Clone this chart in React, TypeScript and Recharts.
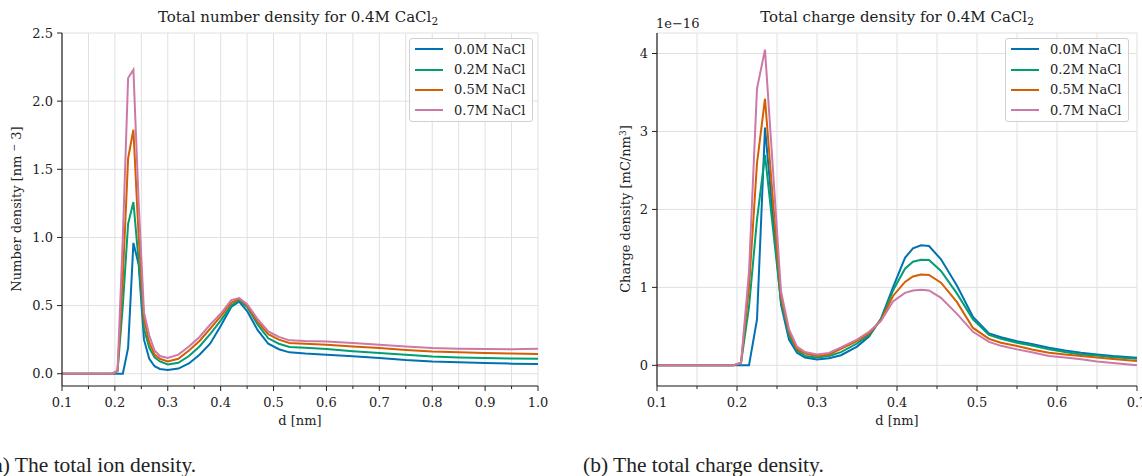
import { LineChart, Line, XAxis, YAxis, CartesianGrid, Legend } from 'recharts';

const seriesNames = ['0.0M NaCl', '0.2M NaCl', '0.5M NaCl', '0.7M NaCl'];
const seriesColors = ['#0072B2', '#009E73', '#D55E00', '#CC79A7'];

// (a) total number density, d in nm
const dNumber = [0.1, 0.15, 0.195, 0.205, 0.215, 0.225, 0.235, 0.245, 0.255, 0.265, 0.275, 0.285, 0.3, 0.32, 0.34, 0.36, 0.38, 0.4, 0.42, 0.435, 0.45, 0.47, 0.49, 0.51, 0.53, 0.56, 0.6, 0.65, 0.7, 0.75, 0.8, 0.85, 0.9, 0.95, 1.0];
const number00 = [0, 0, 0, 0, 0, 0.19, 0.96, 0.8, 0.25, 0.11, 0.055, 0.035, 0.028, 0.038, 0.075, 0.14, 0.22, 0.35, 0.49, 0.53, 0.46, 0.32, 0.22, 0.18, 0.157, 0.148, 0.14, 0.128, 0.115, 0.1, 0.09, 0.085, 0.078, 0.074, 0.071];
const number02 = [0, 0, 0, 0.02, 0.5, 1.1, 1.26, 0.82, 0.33, 0.19, 0.12, 0.09, 0.068, 0.08, 0.13, 0.2, 0.29, 0.39, 0.5, 0.54, 0.49, 0.36, 0.26, 0.22, 0.196, 0.19, 0.181, 0.165, 0.152, 0.14, 0.127, 0.12, 0.115, 0.112, 0.11];
const number05 = [0, 0, 0, 0.02, 0.7, 1.58, 1.79, 1.0, 0.4, 0.23, 0.14, 0.11, 0.09, 0.11, 0.17, 0.24, 0.33, 0.42, 0.52, 0.55, 0.5, 0.38, 0.29, 0.25, 0.225, 0.22, 0.213, 0.2, 0.188, 0.175, 0.164, 0.158, 0.152, 0.148, 0.144];
const number07 = [0, 0, 0, 0.02, 1.0, 2.17, 2.23, 1.25, 0.45, 0.28, 0.17, 0.13, 0.115, 0.14, 0.2, 0.27, 0.36, 0.44, 0.54, 0.555, 0.51, 0.4, 0.31, 0.27, 0.245, 0.24, 0.237, 0.225, 0.213, 0.2, 0.188, 0.184, 0.181, 0.18, 0.183];

// (b) total charge density, units of 1e-16 mC/nm^3
const dCharge = [0.1, 0.15, 0.195, 0.205, 0.215, 0.225, 0.235, 0.245, 0.255, 0.265, 0.275, 0.285, 0.3, 0.315, 0.33, 0.35, 0.365, 0.38, 0.395, 0.41, 0.42, 0.43, 0.44, 0.455, 0.475, 0.495, 0.515, 0.53, 0.55, 0.57, 0.59, 0.61, 0.63, 0.65, 0.67, 0.7];
const charge00 = [0, 0, 0, 0, 0, 0.59, 3.05, 1.9, 0.78, 0.33, 0.16, 0.1, 0.075, 0.09, 0.13, 0.24, 0.37, 0.6, 1.0, 1.38, 1.5, 1.54, 1.53, 1.36, 1.02, 0.62, 0.41, 0.36, 0.31, 0.27, 0.225, 0.19, 0.162, 0.14, 0.12, 0.098];
const charge02 = [0, 0, 0, 0.03, 0.75, 1.87, 2.7, 1.75, 0.82, 0.38, 0.19, 0.12, 0.1, 0.12, 0.17, 0.28, 0.39, 0.59, 0.96, 1.24, 1.33, 1.355, 1.35, 1.21, 0.92, 0.59, 0.39, 0.34, 0.29, 0.25, 0.205, 0.17, 0.14, 0.125, 0.105, 0.085];
const charge05 = [0, 0, 0, 0.03, 1.0, 2.59, 3.42, 2.1, 0.88, 0.43, 0.21, 0.15, 0.12, 0.14, 0.21, 0.31, 0.41, 0.58, 0.89, 1.07, 1.14, 1.164, 1.16, 1.06, 0.81, 0.48, 0.34, 0.29, 0.247, 0.2, 0.162, 0.14, 0.12, 0.1, 0.08, 0.055];
const charge07 = [0, 0, 0, 0.03, 1.2, 3.55, 4.05, 2.5, 0.95, 0.46, 0.24, 0.17, 0.14, 0.16, 0.23, 0.33, 0.43, 0.57, 0.82, 0.93, 0.96, 0.97, 0.96, 0.866, 0.66, 0.43, 0.3, 0.25, 0.205, 0.165, 0.12, 0.1, 0.077, 0.05, 0.03, 0.0];

const numberXMajor = [0.1, 0.2, 0.3, 0.4, 0.5, 0.6, 0.7, 0.8, 0.9, 1.0];
const numberXAll = [0.1, 0.15, 0.2, 0.25, 0.3, 0.35, 0.4, 0.45, 0.5, 0.55, 0.6, 0.65, 0.7, 0.75, 0.8, 0.85, 0.9, 0.95, 1.0];
const numberYTicks = [0, 0.5, 1.0, 1.5, 2.0, 2.5];
const chargeXMajor = [0.1, 0.2, 0.3, 0.4, 0.5, 0.6, 0.7];
const chargeXAll = [0.1, 0.15, 0.2, 0.25, 0.3, 0.35, 0.4, 0.45, 0.5, 0.55, 0.6, 0.65, 0.7];
const chargeYTicks = [0, 1, 2, 3, 4];

const numberRows = dNumber.map((d, i) => ({ d, s0: number00[i], s1: number02[i], s2: number05[i], s3: number07[i] }));
const chargeRows = dCharge.map((d, i) => ({ d, s0: charge00[i], s1: charge02[i], s2: charge05[i], s3: charge07[i] }));

const FONT = "'DejaVu Serif', serif";
const INK = '#222';

function XTick(props: any) {
  const { x, y, payload, majors } = props;
  const v = payload.value;
  const major = majors.some((m: number) => Math.abs(m - v) < 1e-6);
  return (
    <g>
      <line x1={x} x2={x} y1={y} y2={y + (major ? 5 : 3)} stroke={INK} strokeWidth={1} />
      {major && (
        <text x={x} y={y + 12} dy="0.71em" textAnchor="middle" fontFamily={FONT} fontSize={13} fill={INK}>
          {v.toFixed(1)}
        </text>
      )}
    </g>
  );
}

function YTick(props: any) {
  const { x, y, payload, digits } = props;
  return (
    <g>
      <line x1={x - 5} x2={x} y1={y} y2={y} stroke={INK} strokeWidth={1} />
      <text x={x - 9} y={y} dy="0.36em" textAnchor="end" fontFamily={FONT} fontSize={13} fill={INK}>
        {payload.value.toFixed(digits)}
      </text>
    </g>
  );
}

function LegendBox() {
  return (
    <div
      style={{
        width: 124,
        border: '1px solid #d0d0d0',
        borderRadius: 3,
        background: 'rgba(255,255,255,0.85)',
        boxSizing: 'border-box',
        padding: '0 0 0 5px',
        fontFamily: FONT,
        fontSize: 13,
        color: INK,
      }}
    >
      {seriesNames.map((name, i) => (
        <div key={name} style={{ display: 'flex', alignItems: 'center', height: 20.4 }}>
          <span style={{ display: 'inline-block', width: 28, height: 2, background: seriesColors[i], marginRight: 11 }} />
          <span>{name}</span>
        </div>
      ))}
    </div>
  );
}

function Panel(props: {
  rows: any[];
  width: number;
  marginRight: number;
  xDomain: [number, number];
  xAll: number[];
  xMajor: number[];
  yDomain: [number, number];
  yTicks: number[];
  yDigits: number;
  legendLeft: number;
}) {
  const { rows, width, marginRight, xDomain, xAll, xMajor, yDomain, yTicks, yDigits, legendLeft } = props;
  return (
    <LineChart width={width} height={440} data={rows} margin={{ top: 33, right: marginRight, bottom: 0, left: 0 }}>
      <CartesianGrid stroke="#e0e0e0" strokeWidth={1} />
      <XAxis
        dataKey="d"
        type="number"
        domain={xDomain}
        ticks={xAll}
        interval={0}
        allowDataOverflow
        height={54}
        tickSize={0}
        tickMargin={0}
        tickLine={false}
        axisLine={{ stroke: INK, strokeWidth: 1.2 }}
        tick={(p: any) => <XTick {...p} majors={xMajor} />}
      />
      <XAxis
        xAxisId="top"
        orientation="top"
        dataKey="d"
        type="number"
        domain={xDomain}
        height={0}
        tick={false}
        tickLine={false}
        axisLine={{ stroke: INK, strokeWidth: 1.2 }}
      />
      <YAxis
        type="number"
        domain={yDomain}
        ticks={yTicks}
        interval={0}
        allowDataOverflow
        width={62}
        tickSize={0}
        tickMargin={0}
        tickLine={false}
        axisLine={{ stroke: INK, strokeWidth: 1.2 }}
        tick={(p: any) => <YTick {...p} digits={yDigits} />}
      />
      <YAxis
        yAxisId="right"
        orientation="right"
        type="number"
        domain={yDomain}
        width={0}
        tick={false}
        tickLine={false}
        axisLine={{ stroke: INK, strokeWidth: 1.2 }}
      />
      <Legend
        layout="vertical"
        align="center"
        verticalAlign="middle"
        wrapperStyle={{ top: 38, left: legendLeft, width: 124 }}
        content={() => <LegendBox />}
      />
      {['s0', 's1', 's2', 's3'].map((key, i) => (
        <Line
          key={key}
          dataKey={key}
          name={seriesNames[i]}
          type="linear"
          stroke={seriesColors[i]}
          strokeWidth={2}
          dot={false}
          isAnimationActive={false}
        />
      ))}
    </LineChart>
  );
}

const abs = (left: number, top: number): React.CSSProperties => ({ position: 'absolute', left, top });
const subStyle: React.CSSProperties = { fontSize: '70%', verticalAlign: '-0.3em', lineHeight: 0 };
const supStyle: React.CSSProperties = { fontSize: '70%', verticalAlign: '0.45em', lineHeight: 0 };
const captionStyle: React.CSSProperties = {
  fontFamily: "'Liberation Serif', serif",
  fontSize: 21.5,
  lineHeight: '22px',
  whiteSpace: 'nowrap',
};

export default function App() {
  return (
    <div
      style={{
        position: 'absolute',
        left: 0,
        top: 0,
        width: 1142,
        height: 476,
        overflow: 'hidden',
        background: '#fff',
        fontFamily: FONT,
        color: INK,
      }}
    >
      <div style={abs(0, 0)}>
        <Panel
          rows={numberRows}
          width={560}
          marginRight={22}
          xDomain={[0.1, 1.0]}
          xAll={numberXAll}
          xMajor={numberXMajor}
          yDomain={[-0.09, 2.5]}
          yTicks={numberYTicks}
          yDigits={1}
          legendLeft={409}
        />
      </div>
      <div style={abs(595, 0)}>
        <Panel
          rows={chargeRows}
          width={547}
          marginRight={5}
          xDomain={[0.1, 0.7]}
          xAll={chargeXAll}
          xMajor={chargeXMajor}
          yDomain={[-0.265, 4.263]}
          yTicks={chargeYTicks}
          yDigits={0}
          legendLeft={410}
        />
      </div>

      {/* titles */}
      <div style={{ ...abs(298, 9), transform: 'translateX(-50%)', fontSize: 15, lineHeight: '16px', whiteSpace: 'nowrap' }}>
        Total number density for 0.4M CaCl<span style={subStyle}>2</span>
      </div>
      <div style={{ ...abs(897, 9), transform: 'translateX(-50%)', fontSize: 15, lineHeight: '16px', whiteSpace: 'nowrap' }}>
        Total charge density for 0.4M CaCl<span style={subStyle}>2</span>
      </div>
      <div style={{ ...abs(656, 17), fontSize: 13, lineHeight: '14px' }}>1e−16</div>

      {/* axis labels */}
      <div style={{ ...abs(300, 413), transform: 'translateX(-50%)', fontSize: 13, lineHeight: '16px', whiteSpace: 'nowrap' }}>d [nm]</div>
      <div style={{ ...abs(897, 413), transform: 'translateX(-50%)', fontSize: 13, lineHeight: '16px', whiteSpace: 'nowrap' }}>d [nm]</div>
      <div
        style={{
          ...abs(17, 209),
          transform: 'translate(-50%, -50%) rotate(-90deg)',
          fontSize: 13,
          lineHeight: '16px',
          whiteSpace: 'nowrap',
        }}
      >
        Number density [nm <span style={supStyle}>−</span> 3]
      </div>
      <div
        style={{
          ...abs(626, 209),
          transform: 'translate(-50%, -50%) rotate(-90deg)',
          fontSize: 13,
          lineHeight: '16px',
          whiteSpace: 'nowrap',
        }}
      >
        Charge density [mC/nm<span style={supStyle}>3</span>]
      </div>

      {/* sub-figure captions */}
      <div style={{ ...abs(-14, 454), ...captionStyle }}>(a) The total ion density.</div>
      <div style={{ ...abs(583, 454), ...captionStyle }}>(b) The total charge density.</div>
    </div>
  );
}
